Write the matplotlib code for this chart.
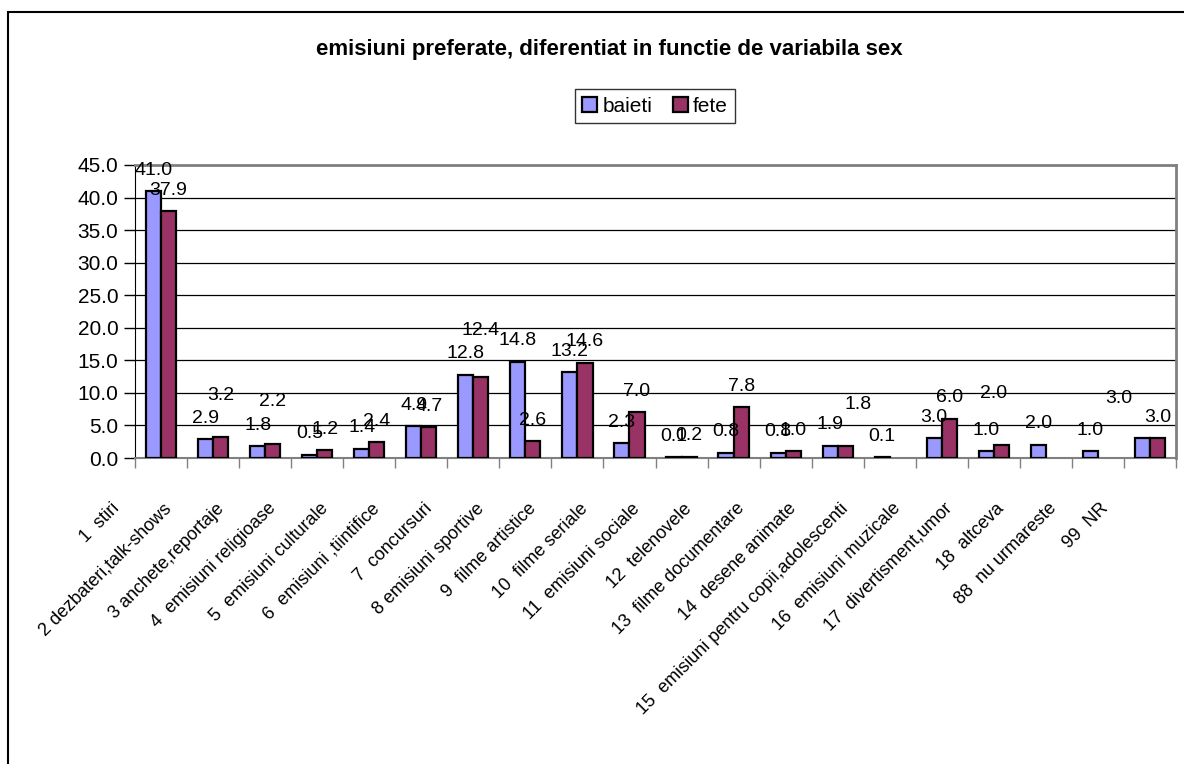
import numpy as np
import matplotlib
matplotlib.use('Agg')
import matplotlib.pyplot as plt
import matplotlib.transforms as mtransforms
from matplotlib.patches import Rectangle

plt.rcParams['font.family'] = ['Liberation Sans', 'DejaVu Sans']

categories = ['1  stiri', '2 dezbateri,talk-shows', '3 anchete,reportaje',
              '4  emisiuni religioase', '5  emisiuni culturale', '6  emisiuni ,tiintifice',
              '7  concursuri', '8 emisiuni sportive', '9  filme artistice',
              '10  filme seriale', '11  emisiuni sociale', '12  telenovele',
              '13  filme documentare', '14  desene animate',
              '15  emisiuni pentru copii,adolescenti', '16  emisiuni muzicale',
              '17  divertisment,umor', '18  altceva', '88  nu urmareste', '99  NR']
baieti = [41.0, 2.9, 1.8, 0.5, 1.4, 4.9, 12.8, 14.8, 13.2, 2.3,
          0.1, 0.8, 0.8, 1.9, 0.1, 3.0, 1.0, 2.0, 1.0, 3.0]
fete = [37.9, 3.2, 2.2, 1.2, 2.4, 4.7, 12.4, 2.6, 14.6, 7.0,
        0.2, 7.8, 1.0, 1.8, np.nan, 6.0, 2.0, np.nan, np.nan, 3.0]
series_names = ['baieti', 'fete']
yticks = np.arange(0, 45.1, 5)

# label nudges (pixels) where the original chart moved a data label to avoid a clash
nudge_baieti = {19: (-24, 19)}
nudge_fete = {1: (0, 21), 2: (0, 21), 6: (0, 26), 13: (13, 21), 16: (-8, 30)}

W, H = 1184, 764
fig = plt.figure(figsize=(W / 100, H / 100), dpi=100)

# outer chart border (cut off at right and bottom like the original)
fig.patches.append(Rectangle((8 / W, -0.1), 1.2, 1 - 12 / H + 0.1, transform=fig.transFigure,
                             fill=False, edgecolor='black', linewidth=1.5))

ax = fig.add_axes([135 / W, 1 - 458 / H, (1176 - 135) / W, (458 - 165) / H])

x = np.arange(len(categories))
bw = 0.29
b1 = ax.bar(x - bw / 2, baieti, bw, color='#9999FF', edgecolor='black', linewidth=1.6,
            label=series_names[0], zorder=3)
b2 = ax.bar(x + bw / 2, fete, bw, color='#993366', edgecolor='black', linewidth=1.6,
            label=series_names[1], zorder=3)

for bars, vals, nudge in ((b1, baieti, nudge_baieti), (b2, fete, nudge_fete)):
    for i, (rect, v) in enumerate(zip(bars, vals)):
        if np.isnan(v):
            continue
        dx, dy = nudge.get(i, (0, 0))
        ax.annotate(f'{v:.1f}', (rect.get_x() + rect.get_width() / 2, v),
                    xytext=(dx * 0.72, 9 + dy * 0.72), textcoords='offset points',
                    ha='center', va='bottom', fontsize=14, zorder=5, annotation_clip=False)

ax.set_xlim(-0.5, len(categories) - 0.5)
ax.set_ylim(0, 45)
ax.set_yticks(yticks)
ax.set_yticklabels([f'{t:.1f}' for t in yticks], fontsize=15)
ax.yaxis.grid(True, color='black', linewidth=0.9)
ax.set_axisbelow(True)
ax.tick_params(axis='y', direction='out', length=8, width=1, pad=4)

ax.set_xticks(x)
ax.set_xticklabels(categories, fontsize=13, rotation=45, ha='right', rotation_mode='anchor')
ax.set_xticks(np.arange(-0.5, len(categories)), minor=True)
ax.tick_params(axis='x', which='major', length=0, pad=0)
ax.tick_params(axis='x', which='minor', direction='out', length=7, width=1, color='#808080')
shift = mtransforms.ScaledTranslation(-0.50, -0.42, fig.dpi_scale_trans)
for lbl in ax.get_xticklabels():
    lbl.set_transform(lbl.get_transform() + shift)

for side in ('top', 'right'):
    ax.spines[side].set_color('#808080')
    ax.spines[side].set_linewidth(2)
ax.spines['left'].set_color('black')
ax.spines['bottom'].set_color('#808080')
ax.spines['bottom'].set_linewidth(1.5)

fig.text(609 / W, 1 - 50 / H, 'emisiuni preferate, diferentiat in functie de variabila sex',
         ha='center', va='center', fontsize=16, fontweight='bold')

leg = fig.legend(handles=[b1, b2], labels=series_names, loc='center',
                 bbox_to_anchor=(655 / W, 1 - 106 / H), ncol=2, fontsize=15,
                 frameon=True, fancybox=False, edgecolor='black', handlelength=0.7,
                 handleheight=0.7, handletextpad=0.25, columnspacing=1.0, borderpad=0.35,
                 borderaxespad=0)
leg.get_frame().set_linewidth(1)

fig.savefig('out.png', dpi=100)
